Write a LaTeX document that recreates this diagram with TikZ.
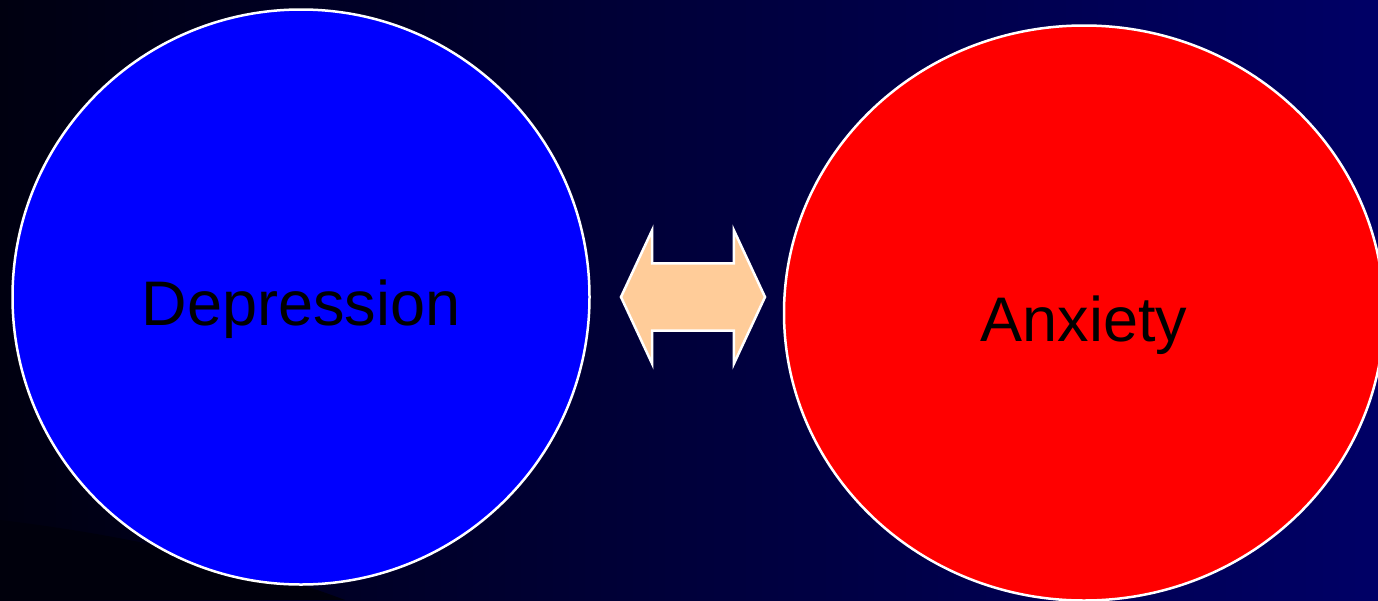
\documentclass[tikz,border=0pt]{standalone}
\usepackage{fontspec}
\setmainfont{Liberation Sans}
\usetikzlibrary{shapes.geometric, shapes.arrows, positioning}

\definecolor{bgleft}{RGB}{0,0,16}
\definecolor{bgright}{RGB}{0,0,102}
\definecolor{bgcorner}{RGB}{0,0,12}
\definecolor{peach}{RGB}{255,204,153}

\begin{document}
\begin{tikzpicture}[
    x=1pt, y=-1pt,
    bubble/.style={ellipse, draw=white, line width=2.5pt, inner sep=0pt,
      text height=56pt, text depth=0pt, font=\fontsize{63}{76}\selectfont},
    linkarrow/.style={double arrow, draw=white, fill=peach, line width=2.5pt,
      minimum height=144pt, minimum width=134pt, inner xsep=0pt, inner ysep=32pt,
      double arrow head extend=33pt, double arrow tip angle=130}
  ]
    \useasboundingbox (0,0) rectangle (1378,600);
    \clip (0,0) rectangle (1378,600);
    % background
    \shade[left color=bgleft, right color=bgright] (0,0) rectangle (1378,600);
    \fill[bgcorner] (0,520) .. controls (150,538) and (260,568) .. (345,600) -- (0,600) -- cycle;
    % circles
    \node[bubble, fill=blue, minimum width=577pt, minimum height=575pt] (dep) at (301,297) {Depression};
    \node[bubble, fill=red, minimum width=600pt, minimum height=575pt] (anx) at (1084,313) {Anxiety};
    \node[linkarrow] (link) at (693,297) {};
  \end{tikzpicture}
\end{document}
